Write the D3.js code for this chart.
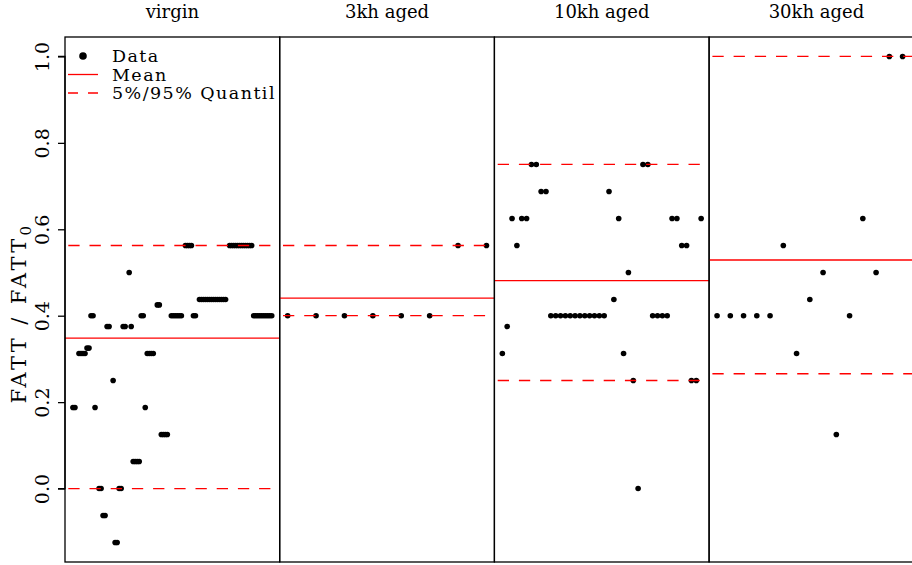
<!DOCTYPE html>
<html>
<head>
<meta charset="utf-8">
<script src="https://cdn.jsdelivr.net/npm/d3@7"></script>
<style>
  body { margin: 0; background: #fff; }
  svg { display: block; }
  text { font-family: "DejaVu Serif", serif; fill: #000; }
</style>
</head>
<body>
<svg id="chart" width="912" height="565"></svg>
<script>
// Ageing states, one panel each
const panelNames = ["virgin", "3kh aged", "10kh aged", "30kh aged"];

// FATT / FATT0 per specimen position (null = no specimen at that position)
const virginFatt = [
  0.1875, 0.1875, null, 0.3125, 0.3125, 0.3125, 0.3125, 0.325, 0.325, 0.4,
  0.4, 0.1875, null, 0, 0, -0.0625, -0.0625, 0.375, 0.375, null,
  0.25, -0.125, -0.125, 0, 0, 0.375, 0.375, null, 0.5, 0.375,
  0.0625, 0.0625, 0.0625, 0.0625, 0.4, 0.4, 0.1875, 0.3125, 0.3125, 0.3125,
  0.3125, null, 0.425, 0.425, 0.125, 0.125, 0.125, 0.125, null, 0.4,
  0.4, 0.4, 0.4, 0.4, 0.4, null, 0.5625, 0.5625, 0.5625, 0.5625,
  0.4, 0.4, null, 0.4375, 0.4375, 0.4375, 0.4375, 0.4375, 0.4375, 0.4375,
  0.4375, 0.4375, 0.4375, 0.4375, 0.4375, 0.4375, 0.4375, null, 0.5625, 0.5625,
  0.5625, 0.5625, 0.5625, 0.5625, 0.5625, 0.5625, 0.5625, 0.5625, 0.5625, 0.5625,
  0.4, 0.4, 0.4, 0.4, 0.4, 0.4, 0.4, 0.4, 0.4, 0.4
];
const aged3khFatt = [0.4, 0.4, 0.4, 0.4, 0.4, 0.4, 0.5625, 0.5625];
const aged10khFatt = [
  0.3125, 0.375, 0.625, 0.5625, 0.625, 0.625, 0.75, 0.75, 0.6875, 0.6875,
  0.4, 0.4, 0.4, 0.4, 0.4, 0.4, 0.4, 0.4, 0.4, 0.4, 0.4, 0.4,
  0.6875, 0.4375, 0.625, 0.3125, 0.5, 0.25, 0, 0.75, 0.75,
  0.4, 0.4, 0.4, 0.4,
  0.625, 0.625, 0.5625, 0.5625, 0.25, 0.25, 0.625
];
const aged30khFatt = [0.4, 0.4, 0.4, 0.4, 0.4, 0.5625, 0.3125, 0.4375, 0.5, 0.125, 0.4, 0.625, 0.5, 1, 1, 1];

const yTicks = [0, 0.2, 0.4, 0.6, 0.8, 1.0];
const legendLabels = ["Data", "Mean", "5%/95% Quantil"];
const quantileProbs = [0.05, 0.95];

// ---- layout ----
const W = 912, H = 565;
const plotLeft = 65, plotTop = 37, plotBottom = 562, panelWidth = 214.7;
const red = "#ff0000";
const dash = "11.3,9.9";

const svg = d3.select("#chart");

const panels = [virginFatt, aged3khFatt, aged10khFatt, aged30khFatt].map((vals, i) => {
  const pts = vals.map((v, k) => ({ x: k + 1, y: v })).filter(d => d.y !== null);
  return { name: panelNames[i], n: vals.length, pts, left: plotLeft + i * panelWidth };
});

// shared y scale: data range widened by 4% on both sides
const allY = panels.flatMap(p => p.pts.map(d => d.y));
const [yMin, yMax] = d3.extent(allY);
const yPad = (yMax - yMin) * 0.04;
const y = d3.scaleLinear().domain([yMin - yPad, yMax + yPad]).range([plotBottom, plotTop]);

panels.forEach((p, i) => {
  const xPad = (p.n - 1) * 0.04;
  const x = d3.scaleLinear()
    .domain([1 - xPad, p.n + xPad])
    .range([p.left, p.left + panelWidth]);

  const clipId = "clip" + i;
  svg.append("clipPath").attr("id", clipId)
    .append("rect")
    .attr("x", p.left).attr("y", plotTop)
    .attr("width", panelWidth).attr("height", plotBottom - plotTop);

  const g = svg.append("g");
  const inner = g.append("g").attr("clip-path", `url(#${clipId})`);

  // specimens
  inner.selectAll("circle").data(p.pts).join("circle")
    .attr("cx", d => x(d.x)).attr("cy", d => y(d.y))
    .attr("r", 2.8).attr("fill", "#000");

  // mean and quantile lines
  const ys = p.pts.map(d => d.y);
  const mean = d3.mean(ys);
  const qs = quantileProbs.map(q => d3.quantile(ys, q));
  const [x0, x1] = x.range();

  inner.append("line")
    .attr("x1", x0).attr("x2", x1)
    .attr("y1", y(mean)).attr("y2", y(mean))
    .attr("stroke", red).attr("stroke-width", 1.3);

  inner.selectAll("line.q").data(qs).join("line")
    .attr("class", "q")
    .attr("x1", x0 + 3.3).attr("x2", x1)
    .attr("y1", d => y(d)).attr("y2", d => y(d))
    .attr("stroke", red).attr("stroke-width", 1.3)
    .attr("stroke-dasharray", dash);

  // panel frame
  g.append("rect")
    .attr("x", p.left).attr("y", plotTop)
    .attr("width", panelWidth).attr("height", plotBottom - plotTop)
    .attr("fill", "none").attr("stroke", "#000").attr("stroke-width", 1.3);

  // panel title
  svg.append("text")
    .attr("x", p.left + panelWidth / 2).attr("y", 18)
    .attr("text-anchor", "middle")
    .attr("font-size", 18)
    .text(p.name);
});

// y axis
const yAxis = d3.axisLeft(y).tickValues(yTicks).tickFormat(d3.format(".1f")).tickSize(7).tickPadding(10);
const axG = svg.append("g").attr("transform", `translate(${plotLeft},0)`).call(yAxis);
axG.select(".domain").attr("d", `M-7,${y(yTicks[0])}H0V${y(yTicks[yTicks.length - 1])}H-7`)
  .attr("stroke", "#000").attr("stroke-width", 1.3).attr("fill", "none");
axG.selectAll(".tick line").attr("stroke", "#000").attr("stroke-width", 1.3);
axG.selectAll(".tick text")
  .attr("font-family", '"DejaVu Serif", serif')
  .attr("font-size", 19)
  .attr("text-anchor", "middle")
  .attr("x", null).attr("dy", null)
  .attr("transform", "translate(-23,0) rotate(-90)")
  .attr("y", 0)
  .attr("dominant-baseline", "central");

// y axis title
const yTitle = svg.append("text")
  .attr("transform", "translate(26,313) rotate(-90)")
  .attr("text-anchor", "middle")
  .attr("font-size", 21)
  .attr("letter-spacing", 3.4);
yTitle.append("tspan").text("FATT / FATT");
yTitle.append("tspan").attr("font-size", 15).attr("dy", 5).text("0");

// legend
const lg = svg.append("g");
const legendY = [56, 74.5, 93];
lg.append("circle").attr("cx", 83).attr("cy", legendY[0]).attr("r", 3.8).attr("fill", "#000");
lg.append("line").attr("x1", 68).attr("x2", 98).attr("y1", legendY[1]).attr("y2", legendY[1])
  .attr("stroke", red).attr("stroke-width", 1.3);
lg.append("line").attr("x1", 68).attr("x2", 98).attr("y1", legendY[2]).attr("y2", legendY[2])
  .attr("stroke", red).attr("stroke-width", 1.3).attr("stroke-dasharray", "10,10");
lg.selectAll("text").data(legendLabels).join("text")
  .attr("x", 112).attr("y", (d, i) => legendY[i])
  .attr("dy", "0.36em")
  .attr("font-size", 17.5)
  .attr("letter-spacing", 1.45)
  .text(d => d);
</script>
</body>
</html>
